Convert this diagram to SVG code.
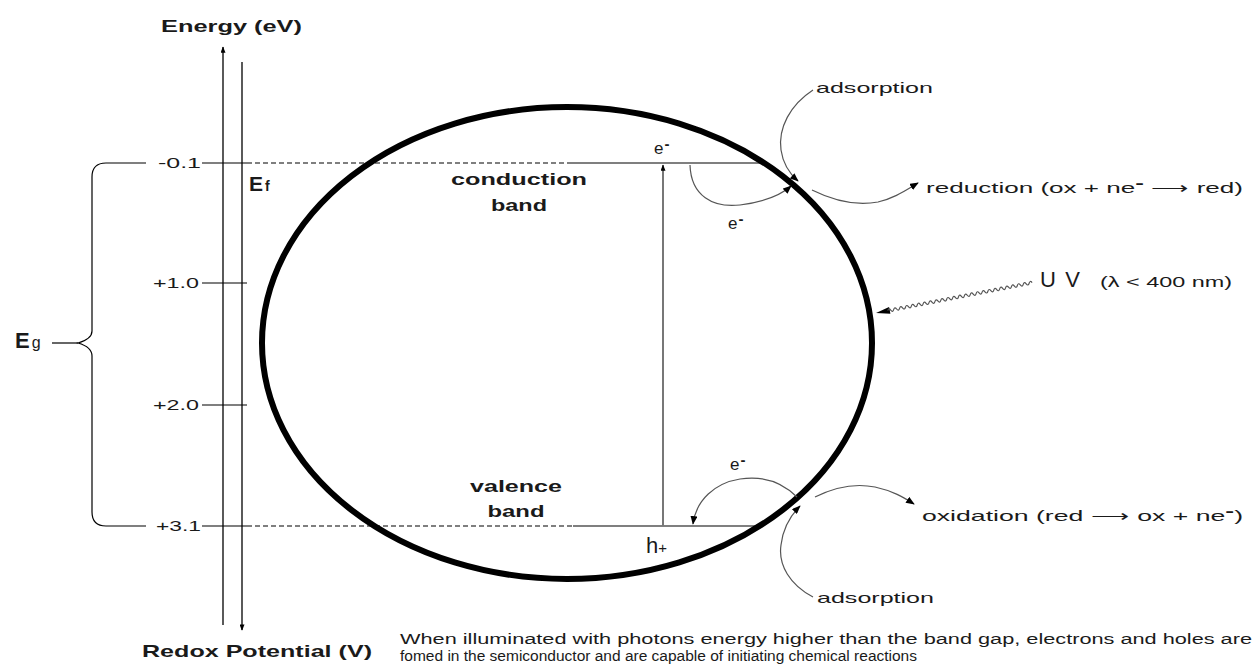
<svg xmlns="http://www.w3.org/2000/svg" width="1258" height="668" viewBox="0 0 1258 668">
<style>
text{font-family:"Liberation Sans",Arial,sans-serif;fill:#1a1a1a}
.b{font-weight:bold}
.ax{stroke:#000;stroke-width:1.3;fill:none}
.dash{stroke:#000;stroke-width:1.2;stroke-dasharray:5 3;fill:none}
.sol{stroke:#000;stroke-width:1.2;fill:none}
.cv{stroke:#555;stroke-width:1.2;fill:none}
.lbl{font-size:15px}
.el{font-size:17px}
.sup{font-weight:bold;font-size:15px}
</style>
<defs>
<marker id="ah" viewBox="0 0 10 8" refX="9" refY="4" markerWidth="9" markerHeight="7" markerUnits="userSpaceOnUse" orient="auto">
<path d="M0,0 L10,4 L0,8 Z" fill="#000"/>
</marker>
<marker id="ax" viewBox="0 0 10 8" refX="9" refY="4" markerWidth="10" markerHeight="5" markerUnits="userSpaceOnUse" orient="auto">
<path d="M0,0 L10,4 L0,8 Z" fill="#000"/>
</marker>
</defs>

<g id="axes">
<line class="ax" x1="223" y1="625" x2="223" y2="47" marker-end="url(#ax)"/>
<line class="ax" x1="242" y1="62" x2="242" y2="630" marker-end="url(#ax)"/>
<text class="b" x="161" y="32" font-size="17" textLength="141" lengthAdjust="spacingAndGlyphs">Energy (eV)</text>
<text class="b" x="142" y="657" font-size="17" textLength="230" lengthAdjust="spacingAndGlyphs">Redox Potential (V)</text>
</g>

<g id="ticks">
<line class="sol" x1="202" y1="163" x2="247" y2="163"/>
<line class="sol" x1="202" y1="283" x2="247" y2="283"/>
<line class="sol" x1="202" y1="405" x2="247" y2="405"/>
<line class="sol" x1="202" y1="526" x2="247" y2="526"/>
<text class="lbl" x="201" y="168" text-anchor="end" textLength="43" lengthAdjust="spacingAndGlyphs">-0.1</text>
<text class="lbl" x="199" y="288" text-anchor="end" textLength="46" lengthAdjust="spacingAndGlyphs">+1.0</text>
<text class="lbl" x="199" y="410" text-anchor="end" textLength="46" lengthAdjust="spacingAndGlyphs">+2.0</text>
<text class="lbl" x="201" y="531" text-anchor="end" textLength="45" lengthAdjust="spacingAndGlyphs">+3.1</text>
</g>

<g id="fermi">
<text class="b" x="249" y="191" font-size="21">E<tspan font-size="14" dx="2">f</tspan></text>
</g>

<g id="bandgap">
<path class="sol" d="M146,163 L106,163 Q92,163 92,177 L92,331 Q92,339 78,343 Q92,347 92,356 L92,512 Q92,526 106,526 L146,526"/>
<line class="sol" x1="52" y1="343" x2="78" y2="343"/>
<text class="b" x="15" y="348" font-size="22">E<tspan font-size="16" font-weight="normal" dx="2">g</tspan></text>
</g>

<g id="band-lines">
<line class="dash" x1="247" y1="163" x2="572" y2="163"/>
<line class="sol" x1="572" y1="163" x2="762" y2="163"/>
<line class="dash" x1="247" y1="526" x2="573" y2="526"/>
<line class="sol" x1="573" y1="526" x2="756" y2="526"/>
</g>

<g id="particle">
<ellipse cx="567" cy="343" rx="305" ry="236" fill="none" stroke="#000" stroke-width="6"/>
</g>

<g id="conduction-band">
<text class="b" x="519" y="185" font-size="17" text-anchor="middle" textLength="136" lengthAdjust="spacingAndGlyphs">conduction</text>
<text class="b" x="519" y="211" font-size="17" text-anchor="middle" textLength="56" lengthAdjust="spacingAndGlyphs">band</text>
</g>

<g id="valence-band">
<text class="b" x="516" y="492" font-size="17" text-anchor="middle" textLength="92" lengthAdjust="spacingAndGlyphs">valence</text>
<text class="b" x="516" y="517" font-size="17" text-anchor="middle" textLength="57" lengthAdjust="spacingAndGlyphs">band</text>
</g>

<g id="labels">
<text class="el" x="654" y="154">e<tspan class="sup" dy="-5" dx="1">-</tspan></text>
<text class="el" x="728" y="229">e<tspan class="sup" dy="-5" dx="1">-</tspan></text>
<text class="el" x="730" y="470">e<tspan class="sup" dy="-5" dx="1">-</tspan></text>
<text x="646" y="553" font-size="22">h<tspan font-size="15">+</tspan></text>
<text class="lbl" x="816" y="93" textLength="117" lengthAdjust="spacingAndGlyphs">adsorption</text>
<text class="lbl" x="817" y="603" textLength="117" lengthAdjust="spacingAndGlyphs">adsorption</text>
<text class="lbl" x="926" y="193" textLength="317" lengthAdjust="spacingAndGlyphs">reduction (ox + ne<tspan class="sup" dy="-5">-</tspan><tspan dy="5"> ⟶ red)</tspan></text>
<text class="lbl" x="922" y="521" textLength="321" lengthAdjust="spacingAndGlyphs">oxidation (red ⟶ ox + ne<tspan class="sup" dy="-5">-</tspan><tspan dy="5">)</tspan></text>
<text x="1040" y="287" font-size="22" textLength="40" lengthAdjust="spacing">UV</text>
<text class="lbl" x="1100" y="287" textLength="132" lengthAdjust="spacingAndGlyphs">(λ &lt; 400 nm)</text>
<text x="400" y="644" font-size="14" textLength="852" lengthAdjust="spacingAndGlyphs">When illuminated with photons energy higher than the band gap, electrons and holes are</text>
<text x="400" y="661" font-size="14" textLength="517" lengthAdjust="spacingAndGlyphs">fomed in the semiconductor and are capable of initiating chemical reactions</text>
</g>

<g id="connectors">
<line x1="663" y1="526" x2="663" y2="165" stroke="#777" stroke-width="2" marker-end="url(#ax)"/>
<path class="cv" d="M690,165 C691,196 713,208 740,205 C763,202 781,195 791,186" marker-end="url(#ah)"/>
<path class="cv" d="M813,90 C790,105 778,128 781,150 C783,164 790,174 798,181" marker-end="url(#ah)"/>
<path class="cv" d="M812,190 C832,200 856,206 878,202 C895,198 906,190 918,183" marker-end="url(#ah)"/>
<path class="cv" d="M797,497 C780,480 760,476 740,479 C715,483 696,500 693,524" marker-end="url(#ah)"/>
<path class="cv" d="M815,497 C835,487 855,483 875,487 C893,491 903,497 914,504" marker-end="url(#ah)"/>
<path class="cv" d="M813,597 C790,585 778,565 781,545 C783,528 790,516 800,506" marker-end="url(#ah)"/>
<g transform="translate(876,313) rotate(-11)">
<path d="M0,0 L14,-3.5 L14,3.5 Z" fill="#000"/>
<path class="cv" stroke="#222" d="M12,0 q1.5,-3 3,0 t3,0 t3,0 t3,0 t3,0 t3,0 t3,0 t3,0 t3,0 t3,0 t3,0 t3,0 t3,0 t3,0 t3,0 t3,0 t3,0 t3,0 t3,0 t3,0 t3,0 t3,0 t3,0 t3,0 t3,0 t3,0 t3,0 t3,0 t3,0 t3,0 t3,0 t3,0 t3,0 t3,0 t3,0 t3,0 t3,0 t3,0 t3,0 t3,0 t3,0 t3,0 t3,0 t3,0 t3,0 t3,0 t3,0 t3,0 t3,0"/>
</g>
</g>
</svg>
